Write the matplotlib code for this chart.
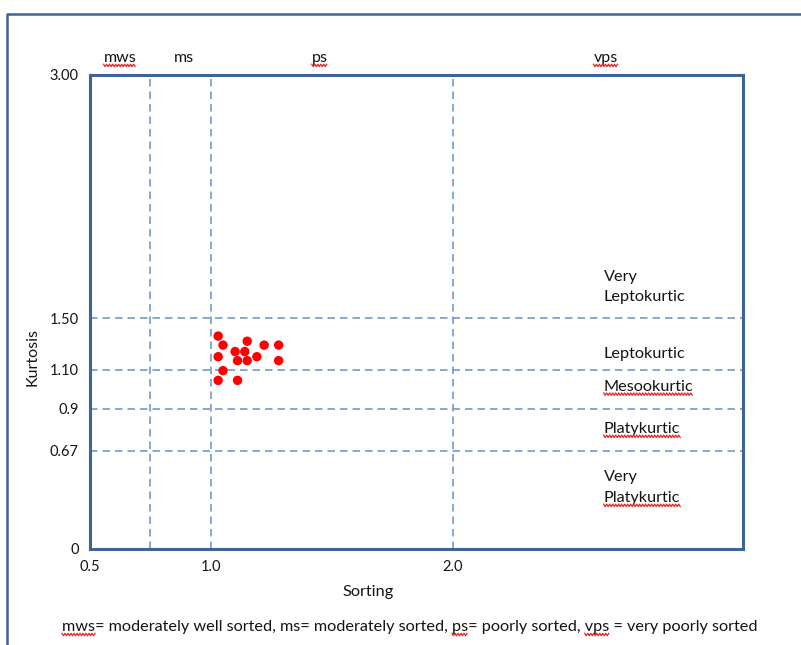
import numpy as np
import matplotlib
matplotlib.use('Agg')
import matplotlib.pyplot as plt
from matplotlib.lines import Line2D
from matplotlib.transforms import IdentityTransform, blended_transform_factory

plt.rcParams['font.family'] = ['Lato', 'DejaVu Sans']

# grain size statistics (Folk & Ward) of the samples
sorting = [1.03, 1.05, 1.03, 1.10, 1.14, 1.15, 1.11, 1.15, 1.19, 1.22, 1.28, 1.28, 1.05, 1.03, 1.11]
kurtosis = [1.36, 1.29, 1.20, 1.24, 1.24, 1.32, 1.17, 1.17, 1.20, 1.29, 1.29, 1.17, 1.095, 1.045, 1.045]

# class boundaries
sort_bounds = [0.75, 1.0, 2.0]
kurt_bounds = [0.67, 0.9, 1.10, 1.50]
sort_classes = ['mws', 'ms', 'ps', 'vps']
kurt_ticks = [0, 0.67, 0.9, 1.10, 1.50, 3.00]
kurt_ticklabels = ['0', '0.67', '0.9', '1.10', '1.50', '3.00']
sort_ticks = [0.5, 1.0, 2.0]
sort_ticklabels = ['0.5', '1.0', '2.0']

FRAME = '#3f6394'
GRID = '#7199cc'
TXT = '#141414'

# kurtosis axis is stretched piecewise between the class limits
_kv = [-1.0, 0, 0.67, 0.9, 1.10, 1.50, 3.00, 10.0]
_kp = [-146, 0, 98, 140, 179, 230.5, 473, 1607]


def kurt_fwd(v):
    return np.interp(v, _kv, _kp)


def kurt_inv(p):
    return np.interp(p, _kp, _kv)


fig = plt.figure(figsize=(8.01, 6.45), dpi=100)
ax = fig.add_axes([90 / 801, 1 - 549 / 645, 653 / 801, 474 / 645])
ax.set_yscale('function', functions=(kurt_fwd, kurt_inv))
ax.set_xlim(0.5, 3.2)
ax.set_ylim(0, 3.0)

for s in ax.spines.values():
    s.set_color(FRAME)
    s.set_linewidth(2.2)

for xb in sort_bounds:
    ax.axvline(xb, color=GRID, lw=1.2, ls=(0, (4.5, 3)), zorder=1)
for yb in kurt_bounds:
    ax.axhline(yb, color=GRID, lw=1.2, ls=(0, (4.5, 3)), zorder=1)

ax.scatter(sorting, kurtosis, s=46, color='#ff0000', edgecolors='none', zorder=3)

ax.set_yticks(kurt_ticks)
ax.set_yticklabels(kurt_ticklabels)
ax.set_xticks(sort_ticks)
ax.set_xticklabels(sort_ticklabels)
ax.minorticks_off()
ax.tick_params(length=0, labelsize=10.5, labelcolor=TXT)
ax.tick_params(axis='y', pad=8)
ax.tick_params(axis='x', pad=8)

# sorting class names above the plot
top = blended_transform_factory(ax.transData, ax.transAxes)
top_x = [0.624, 0.888, 1.45, 2.632]
top_txt = []
for name, xx in zip(sort_classes, top_x):
    top_txt.append(ax.text(xx, 1.036, name, transform=top, ha='center', va='center',
                           fontsize=11.5, color=TXT))

# kurtosis class names on the right
kx = 2.624
kurt_names = [('Very', 1.756), ('Leptokurtic', 1.627), ('Leptokurtic', 1.224),
              ('Mesookurtic', 1.013), ('Platykurtic', 0.79), ('Very', 0.492),
              ('Platykurtic', 0.349)]
kurt_txt = [ax.text(kx, yy, name, ha='left', va='center', fontsize=11.7, color=TXT)
            for name, yy in kurt_names]

fig.text(368 / 801, 1 - 592 / 645, 'Sorting', ha='center', va='center', fontsize=11.7, color=TXT)
fig.text(33 / 801, 1 - 357 / 645, 'Kurtosis', ha='center', va='center', rotation=90,
         fontsize=11.5, color=TXT)
note = fig.text(62 / 801, 1 - 627 / 645,
                'mws= moderately well sorted, ms= moderately sorted, ps= poorly sorted, vps = very poorly sorted',
                ha='left', va='center', fontsize=11.7, color=TXT)

# outer border
fig.add_artist(Line2D([7, 7, 801], [0, 631, 631], transform=IdentityTransform(),
                      color=FRAME, lw=1.8))

renderer = fig.canvas.get_renderer()


def text_width(fp, s):
    t = fig.text(0, 0, s + 'x', fontproperties=fp)
    w = t.get_window_extent(renderer).width
    t.remove()
    t = fig.text(0, 0, 'x', fontproperties=fp)
    w -= t.get_window_extent(renderer).width
    t.remove()
    return w


def squiggle(txt, start=0, end=None):
    s = txt.get_text()
    end = len(s) if end is None else end
    bb = txt.get_window_extent(renderer)
    fp = txt.get_fontproperties()
    x0 = bb.x0 + (text_width(fp, s[:start]) if start else 0)
    x1 = bb.x0 + text_width(fp, s[:end])
    xs = np.arange(x0, x1 + 0.1, 1.5)
    ys = bb.y0 - 0.5 + np.where(np.arange(len(xs)) % 2 == 0, 1.2, -1.2)
    fig.add_artist(Line2D(xs, ys, transform=IdentityTransform(), color='#e82020', lw=0.9))


squiggle(top_txt[0])
squiggle(top_txt[2])
squiggle(top_txt[3])
squiggle(kurt_txt[3])
squiggle(kurt_txt[4])
squiggle(kurt_txt[6])
ns = note.get_text()
squiggle(note, 0, 3)
i = ns.index('ps=')
squiggle(note, i, i + 2)
i = ns.index('vps')
squiggle(note, i, i + 3)

fig.savefig('out.png', dpi=100)
